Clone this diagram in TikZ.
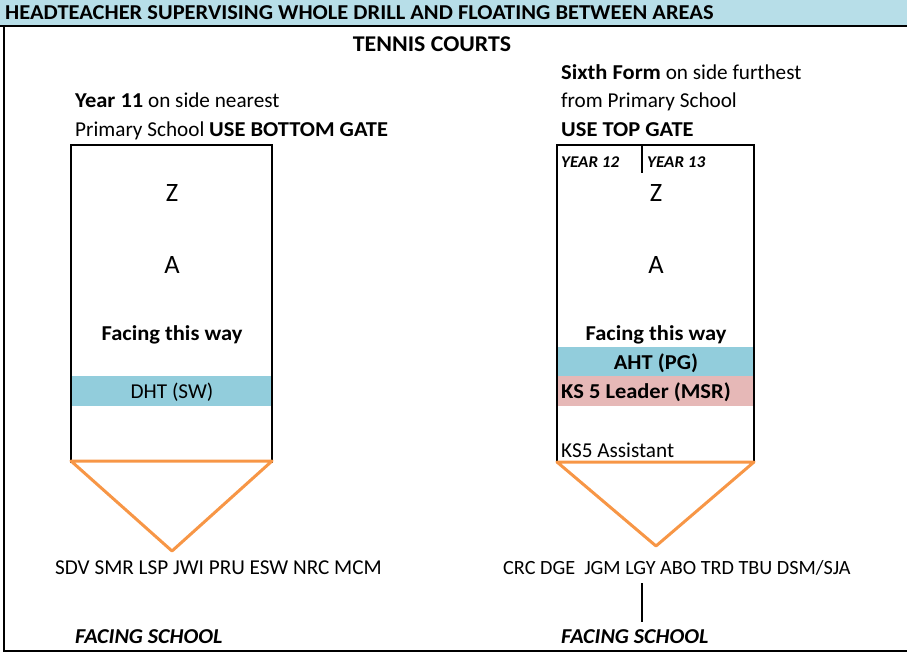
\documentclass[tikz,border=0pt]{standalone}
\usepackage{fontspec}
\setmainfont{Carlito}[BoldFeatures={FakeStretch=1.06},BoldItalicFeatures={FakeStretch=1.04}]
\definecolor{hdrblue}{HTML}{B7DEE8}
\definecolor{bandblue}{HTML}{92CDDC}
\definecolor{bandpink}{HTML}{E6B8B7}
\definecolor{orng}{HTML}{F79646}
\newcommand{\fsz}{\fontsize{21.2}{25}\selectfont}
\begin{document}
\begin{tikzpicture}[x=1pt,y=-1pt,
  txt/.style={inner sep=0pt,anchor=base west,font=\fsz},
  ctxt/.style={inner sep=0pt,anchor=base,font=\fsz},
  big/.style={inner sep=0pt,anchor=base,font=\fontsize{26.5}{30}\selectfont},
  small/.style={inner sep=0pt,anchor=base west,font=\fontsize{16.4}{19}\selectfont\bfseries\itshape},
  boxline/.style={line width=1.6pt,black},
  tri/.style={line width=3pt,orng,line join=round,line cap=round}]
\useasboundingbox (0,0) rectangle (907,653);
% header band
\fill[hdrblue] (0,0) rectangle (907,25);
\node[txt,font=\fsz\bfseries] (hdr) at (5,19.5) {HEADTEACHER SUPERVISING WHOLE DRILL AND FLOATING BETWEEN AREAS};
% frame
\draw[line width=2pt] (0,26) -- (907,26);
\draw[line width=2pt] (4,26) -- (4,651) -- (907,651);
% titles
\node[ctxt,font=\fontsize{22.5}{26}\selectfont\bfseries] (tc) at (432,51) {TENNIS COURTS};
\node[txt] (y11a) at (75,107) {\textbf{Year 11} on side nearest};
\node[txt] (y11b) at (75,136) {Primary School \textbf{USE BOTTOM GATE}};
\node[txt] (sfa) at (561,79) {\textbf{Sixth Form} on side furthest};
\node[txt] (sfb) at (561,107) {from Primary School};
\node[txt] (sfc) at (561,136) {\textbf{USE TOP GATE}};
% left box
\fill[bandblue] (71,376) rectangle (272,406);
\draw[boxline] (71,463) -- (71,145) -- (272,145) -- (272,463);
\node[big] (lz) at (172,201) {Z};
\node[big] (la) at (172,273) {A};
\node[ctxt,font=\fsz\bfseries] (lf) at (172,340) {Facing this way};
\node[ctxt] (dht) at (172,398) {DHT (SW)};
\coordinate (l1) at (71,461);
\coordinate (l2) at (272,461);
\coordinate (l3) at (172,551);
\draw[tri] (l1) -- (l2) -- (l3) -- cycle;
% right box
\fill[bandblue] (557,347) rectangle (754,376);
\fill[bandpink] (557,376) rectangle (754,406);
\draw[boxline] (557,463) -- (557,145) -- (754,145) -- (754,463);
\draw[boxline] (642,145) -- (642,173);
\node[small] (y12) at (561,167) {YEAR 12};
\node[small] (y13) at (647,167) {YEAR 13};
\node[big] (rz) at (656,201) {Z};
\node[big] (ra) at (656,273) {A};
\node[ctxt,font=\fsz\bfseries] (rf) at (656,340) {Facing this way};
\node[ctxt,font=\fsz\bfseries] (aht) at (656,369) {AHT (PG)};
\node[txt,font=\fsz\bfseries] (ks5) at (561,398) {KS 5 Leader (MSR)};
\node[txt] (ksa) at (561,457) {KS5 Assistant};
\coordinate (r1) at (557,462);
\coordinate (r2) at (754,462);
\coordinate (r3) at (656,546);
\draw[tri] (r1) -- (r2) -- (r3) -- cycle;
% bottom names
\node[txt] (ln) at (55,574) {SDV SMR LSP JWI PRU ESW NRC MCM};
\node[txt,font=\fontsize{20.2}{24}\selectfont] (rn) at (503,574) {CRC DGE \ JGM LGY ABO TRD TBU DSM/SJA};
\coordinate (v1) at (642,583);
\coordinate (v2) at (642,622);
\draw[line width=1.3pt] (v1) -- (v2);
\node[txt,font=\fsz\bfseries\itshape] (lfs) at (75,643) {FACING SCHOOL};
\node[txt,font=\fsz\bfseries\itshape] (rfs) at (561,643) {FACING SCHOOL};
\end{tikzpicture}
\end{document}
